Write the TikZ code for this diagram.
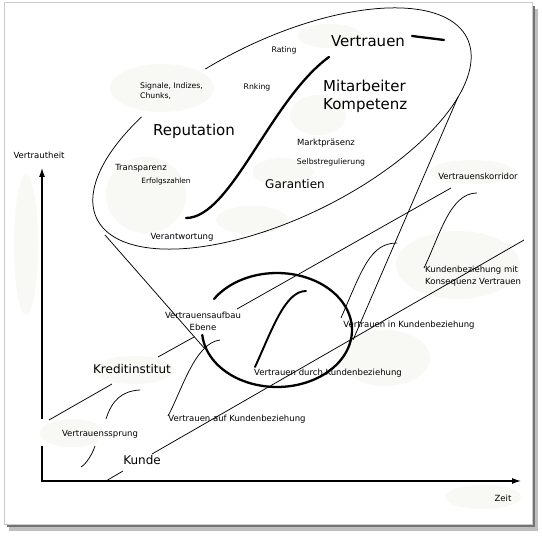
\documentclass[tikz,border=0pt]{standalone}
\usepackage{fontspec}
\setmainfont{DejaVu Sans}
\usetikzlibrary{arrows.meta}
\definecolor{cloud}{RGB}{248,248,244}
\begin{document}
\begin{tikzpicture}[x=1pt, y=-1pt,
  smalltxt/.style={font=\fontsize{8.5}{11.5}\selectfont, inner sep=0pt},
  tinytxt/.style={font=\fontsize{7.7}{10.5}\selectfont, inner sep=0pt},
  midtxt/.style={font=\fontsize{12}{14}\selectfont, inner sep=0pt},
  bigtxt/.style={font=\fontsize{15}{18}\selectfont, inner sep=0pt},
  fineline/.style={line width=0.75pt},
  heavy/.style={line width=2.3pt, line cap=round},
  axis/.style={line width=1.1pt, -{Latex[length=9pt, width=6pt]}},
  blob/.style={fill=cloud, draw=none}
]
\useasboundingbox (0,0) rectangle (542,540);
\fill[black!25] (9,9) rectangle (538,531);
\fill[black!55] (7,6) rectangle (535,527);
\filldraw[fill=white, draw=black!20] (4,2) rectangle (532,524);

\fill[blob] (162,88) ellipse (52 and 24);
\fill[blob] (330,36) ellipse (32 and 12);
\fill[blob] (318,115) ellipse (28 and 20);
\fill[blob] (146,195) ellipse (40 and 38);
\fill[blob] (283,172) ellipse (30 and 14);
\fill[blob] (252,220) ellipse (36 and 14);
\fill[blob] (472,172) ellipse (42 and 12);
\fill[blob] (458,265) ellipse (62 and 34);
\fill[blob] (385,358) ellipse (45 and 28);
\fill[blob] (134,370) ellipse (40 and 14);
\fill[blob] (72,433) ellipse (32 and 14);
\fill[blob] (483,497) ellipse (38 and 12);
\fill[blob] (26,245) ellipse (12 and 70);

\draw[fineline] plot[domain=258:594, samples=140, smooth] ({282+206*cos(\x)*0.8988+89*sin(\x)*0.4384}, {128.5-206*cos(\x)*0.4384+89*sin(\x)*0.8988});
\draw[heavy] plot[domain=213:535, samples=100, smooth] ({277+75*cos(\x)}, {330+57*sin(\x)});

\draw[fineline] (105,235) -- (205,349);
\draw[fineline] (458,97) -- (353,340);
\draw[fineline] (49,420) -- (112,384);
\draw[fineline] (158,357) -- (194,337);
\draw[fineline] (237,309) -- (451,188);
\draw[fineline] (106,481) -- (123,471);
\draw[fineline] (152,454) -- (524,240);

\draw[heavy] (186,218) .. controls (231,218) and (270,100) .. (329,57);
\draw[heavy] (412,36) -- (444,40);
\draw[line width=1.9pt, line cap=round] (255,367) .. controls (272,330) and (285,291) .. (306,291);
\draw[fineline] (341,318) .. controls (362,270) and (370,243) .. (397,243);
\draw[fineline] (424,268) .. controls (440,235) and (450,193) .. (477,193);
\draw[fineline] (168,416) .. controls (182,390) and (195,343) .. (220,340);
\draw[fineline] (81,467) .. controls (86,464) and (92,455) .. (95,446);
\draw[fineline] (106,419) .. controls (112,400) and (122,391) .. (140,390);

\draw[axis] (42,419) -- (42,168);
\draw[axis] (42,446) -- (42,481) -- (521,481);

\node[bigtxt, anchor=mid] (trust) at (368,44) {Vertrauen};
\node[tinytxt, anchor=mid] (rating) at (284,50) {Rating};
\node[tinytxt, anchor=north west, align=left] (signals) at (140,82) {Signale, Indizes,\\Chunks,};
\node[tinytxt, anchor=mid] (ranking) at (257,87) {Rnking};
\node[bigtxt, anchor=north west, align=left] (staff) at (323,80) {Mitarbeiter\\Kompetenz};
\node[bigtxt, anchor=mid] (reputation) at (194,133) {Reputation};
\node[smalltxt, anchor=mid] (market) at (326,143) {Marktpräsenz};
\node[tinytxt, anchor=mid] (selfreg) at (331,162) {Selbstregulierung};
\node[smalltxt, anchor=mid] (transparency) at (141,168) {Transparenz};
\node[font=\fontsize{7.3}{9}\selectfont, inner sep=0pt, anchor=mid] (figures) at (166,181) {Erfolgszahlen};
\node[midtxt, anchor=mid] (guarantees) at (295,186) {Garantien};
\node[smalltxt, anchor=mid] (duty) at (182,237) {Verantwortung};
\node[smalltxt, anchor=mid] (familiarity) at (39,156) {Vertrautheit};
\node[smalltxt, anchor=mid] (corridor) at (478,177) {Vertrauenskorridor};
\node[smalltxt, anchor=north west, align=left] (consequence) at (425,266) {Kundenbeziehung mit\\Konsequenz Vertrauen};
\node[smalltxt, anchor=north, align=center] (buildup) at (203,312) {Vertrauensaufbau\\Ebene};
\node[smalltxt, anchor=mid] (trustin) at (409,325) {Vertrauen in Kundenbeziehung};
\node[midtxt, anchor=mid] (bank) at (132,371) {Kreditinstitut};
\node[smalltxt, anchor=mid] (trustby) at (328,373) {Vertrauen durch Kundenbeziehung};
\node[smalltxt, anchor=mid] (trustof) at (237,419) {Vertrauen auf Kundenbeziehung};
\node[smalltxt, anchor=mid] (leap) at (100,434) {Vertrauenssprung};
\node[midtxt, anchor=mid] (customer) at (142,462) {Kunde};
\node[smalltxt, anchor=mid] (time) at (503,499) {Zeit};
\end{tikzpicture}
\end{document}
